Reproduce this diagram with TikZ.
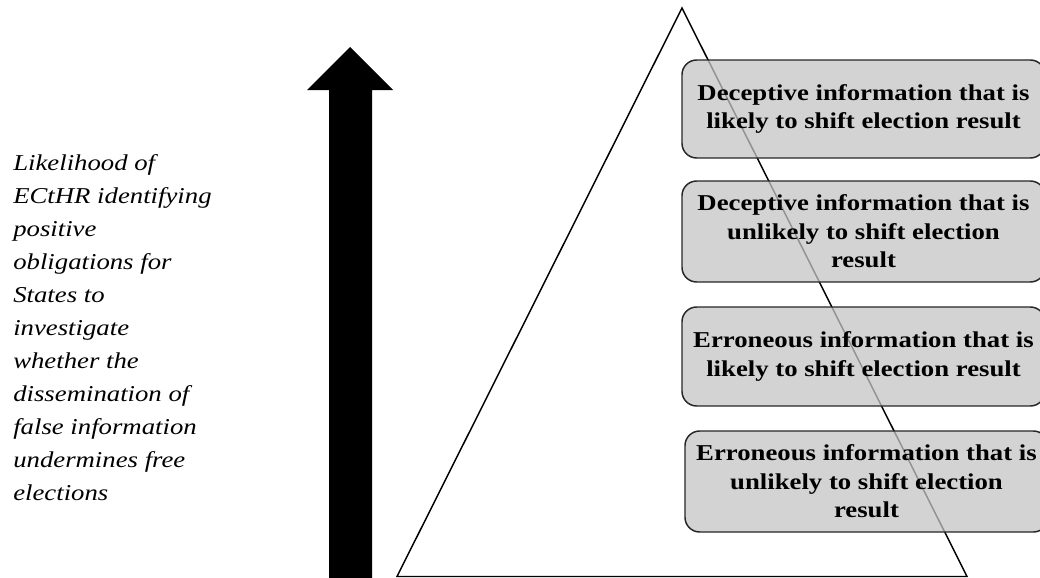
\documentclass[tikz,border=0pt]{standalone}
\usepackage{fontspec}
\setmainfont{Liberation Serif}
\newfontfamily\widefont[FakeStretch=1.18]{Liberation Serif}
\begin{document}
\begin{tikzpicture}[x=0.75pt,y=-0.75pt,
  levelbox/.style={draw=black!85, line width=1.1pt, rounded corners=11pt,
    fill=black!23, fill opacity=0.75, text opacity=1, draw opacity=1,
    inner sep=0pt, align=center,
    font=\widefont\bfseries\fontsize{17}{21.4}\selectfont},
  sidetext/.style={inner sep=0pt, align=left, anchor=north west,
    font=\widefont\itshape\fontsize{17}{24.75}\selectfont}]
  \useasboundingbox (0,0) rectangle (1040,578);

  % pyramid outline
  \coordinate (apex) at (682,8);
  \coordinate (baseL) at (397,576.5);
  \coordinate (baseR) at (967,576.5);
  \draw[line width=1.1pt, line join=miter] (apex) -- (baseL) -- (baseR) -- cycle;

  % upward arrow
  \fill[black] (329,580) -- (329,90) -- (307,90) -- (350,47) -- (393,90)
    -- (372,90) -- (372,580) -- cycle;

  % explanatory text
  \node[sidetext] (label) at (13,154) {Likelihood of\\ECtHR identifying\\positive\\obligations for\\States to\\investigate\\whether the\\dissemination of\\false information\\undermines free\\elections};

  % levels of the pyramid
  \node[levelbox, minimum width=272.25pt, minimum height=73.5pt] (l1) at (863.5,109)
    {Deceptive information that is\\likely to shift election result};
  \node[levelbox, minimum width=272.25pt, minimum height=75.75pt] (l2) at (863.5,231.5)
    {Deceptive information that is\\unlikely to shift election\\result};
  \node[levelbox, minimum width=272.25pt, minimum height=74.25pt] (l3) at (863.5,356.5)
    {Erroneous information that is\\likely to shift election result};
  \node[levelbox, minimum width=272.25pt, minimum height=75.75pt] (l4) at (866.5,481.5)
    {Erroneous information that is\\unlikely to shift election\\result};
\end{tikzpicture}
\end{document}
